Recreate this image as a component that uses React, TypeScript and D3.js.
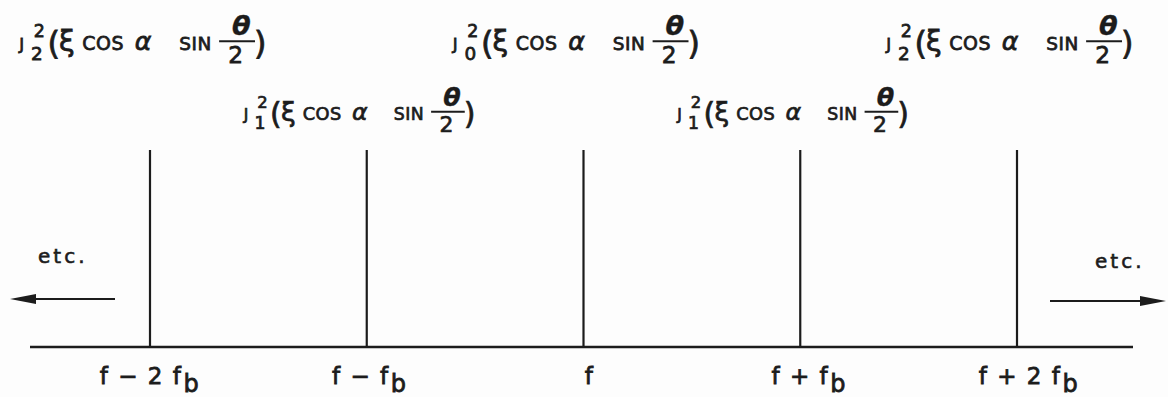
import React from "react";
import * as d3 from "d3";

const W = 1168;
const H = 397;

// Spectral lines: harmonic index n of the beat frequency, relative strength
const harmonics = [-2, -1, 0, 1, 2];
const lineLevels = [1, 1, 1, 1, 1];
// Bessel order that weights each line, and the label row it sits in
const besselOrders = ["2", "1", "0", "1", "2"];
const labelRows = [0, 1, 0, 1, 0];
// Frequency labels under the axis
const freqMain = ["f − 2 f", "f − f", "f", "f + f", "f + 2 f"];
const freqSub = ["b", "b", "", "b", "b"];
const moreText = "etc.";

const FONT = "'DejaVu Sans', 'Liberation Sans', sans-serif";
const INK = "#1c1c1c";

type BesselProps = { cx: number; y: number; order: string; k: number };

// J_n^2(ξ cos α sin θ/2), laid out in a 253-unit wide box
function Bessel({ cx, y, order, k }: BesselProps) {
  const w = 253;
  return (
    <g
      transform={`translate(${cx - (w * k) / 2},${y}) scale(${k})`}
      fill={INK}
      stroke={INK}
      strokeWidth={0.8}
      fontFamily={FONT}
    >
      <text x={0} y={0} fontSize={17}>J</text>
      <text x={12} y={10} fontSize={19}>{order}</text>
      <text x={15} y={-13} fontSize={18}>2</text>
      <text x={29} y={4} fontSize={33}>(</text>
      <text x={41} y={1} fontSize={29}>ξ</text>
      <text x={65} y={0} fontSize={19.5} letterSpacing={0.5}>COS</text>
      <text x={119} y={0} fontSize={26} fontStyle="italic">α</text>
      <text x={165} y={0} fontSize={19} letterSpacing={0.5}>SIN</text>
      <line x1={206} x2={243} y1={-9} y2={-9} stroke={INK} strokeWidth={2.2} />
      <text x={229} y={-15} fontSize={28} textAnchor="middle" fontStyle="italic" fontWeight="bold" strokeWidth={0.3}>θ</text>
      <text x={223} y={13} fontSize={24} textAnchor="middle">2</text>
      <text x={242} y={4} fontSize={33}>)</text>
    </g>
  );
}

export default function App() {
  const x = d3.scaleLinear().domain([-2, 2]).range([150, 1017]);
  const y = d3.scaleLinear().domain([0, 1]).range([347, 150]);
  const axisY = y(0);
  const rowBase = [50, 120];
  const rowScale = [0.97, 0.91];

  const arrowY = [299, 301];
  const leftArrow = { x1: 115, x2: 10 };
  const rightArrow = { x1: 1050, x2: 1166 };
  const head = 26;
  const half = 5;

  return (
    <svg
      width={W}
      height={H}
      viewBox={`0 0 ${W} ${H}`}
      style={{ position: "absolute", left: 0, top: 0, background: "#fdfdfd" }}
    >
      <rect width={W} height={H} fill="#fdfdfd" />

      {/* frequency axis */}
      <line x1={30} x2={1133} y1={axisY} y2={axisY} stroke={INK} strokeWidth={2.6} />

      {/* spectral lines */}
      {harmonics.map((n, i) => (
        <line
          key={`l${n}`}
          x1={x(n)}
          x2={x(n)}
          y1={axisY}
          y2={y(lineLevels[i])}
          stroke={INK}
          strokeWidth={2.2}
        />
      ))}

      {/* line amplitudes */}
      {harmonics.map((n, i) => (
        <Bessel
          key={`b${n}`}
          cx={x(n) - 8}
          y={rowBase[labelRows[i]]}
          order={besselOrders[i]}
          k={rowScale[labelRows[i]]}
        />
      ))}

      {/* frequency labels */}
      {harmonics.map((n, i) => (
        <text
          key={`f${n}`}
          x={x(n) + 6 + n * 3}
          y={384}
          textAnchor="middle"
          fontFamily={FONT}
          fontSize={23}
          letterSpacing={1.5}
          fill={INK}
          stroke={INK}
          strokeWidth={0.8}
        >
          {freqMain[i]}
          {freqSub[i] && (
            <tspan dx={1} dy={8} fontSize={24}>
              {freqSub[i]}
            </tspan>
          )}
        </text>
      ))}

      {/* continuation arrows */}
      <line x1={leftArrow.x1} x2={leftArrow.x2 + head - 4} y1={arrowY[0]} y2={arrowY[0]} stroke={INK} strokeWidth={2.2} />
      <path
        d={`M${leftArrow.x2},${arrowY[0]} L${leftArrow.x2 + head},${arrowY[0] - half} L${leftArrow.x2 + head},${arrowY[0] + half} Z`}
        fill={INK}
      />
      <line x1={rightArrow.x1} x2={rightArrow.x2 - head + 4} y1={arrowY[1]} y2={arrowY[1]} stroke={INK} strokeWidth={2.2} />
      <path
        d={`M${rightArrow.x2},${arrowY[1]} L${rightArrow.x2 - head},${arrowY[1] - half} L${rightArrow.x2 - head},${arrowY[1] + half} Z`}
        fill={INK}
      />
      <text x={38} y={263} fontFamily={FONT} fontSize={20} letterSpacing={3} fill={INK} stroke={INK} strokeWidth={0.6}>
        {moreText}
      </text>
      <text x={1095} y={268} fontFamily={FONT} fontSize={20} letterSpacing={3} fill={INK} stroke={INK} strokeWidth={0.6}>
        {moreText}
      </text>
    </svg>
  );
}
